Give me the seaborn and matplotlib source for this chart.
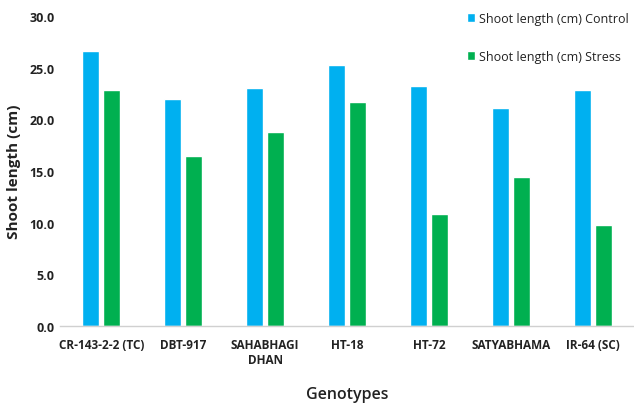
import matplotlib
matplotlib.use("Agg")
import matplotlib.pyplot as plt
import seaborn as sns
import pandas as pd

genotypes = ["CR-143-2-2 (TC)", "DBT-917", "SAHABHAGI\nDHAN", "HT-18", "HT-72", "SATYABHAMA", "IR-64 (SC)"]
control = [26.6, 22.0, 23.0, 25.3, 23.2, 21.1, 22.8]
stress = [22.8, 16.4, 18.8, 21.7, 10.8, 14.4, 9.8]
series_names = ["Shoot length (cm) Control", "Shoot length (cm) Stress"]
y_ticks = [0.0, 5.0, 10.0, 15.0, 20.0, 25.0, 30.0]

df = pd.DataFrame({
    "Genotype": genotypes * 2,
    "Value": control + stress,
    "Series": [series_names[0]] * len(genotypes) + [series_names[1]] * len(genotypes),
})

sns.set_theme(style="white")
plt.rcParams["font.family"] = ["Open Sans", "DejaVu Sans"]

fig = plt.figure(figsize=(6.34, 4.06), dpi=100)
ax = fig.add_axes([0.095, 0.195, 0.905, 0.763])

sns.barplot(data=df, x="Genotype", y="Value", hue="Series", order=genotypes,
            hue_order=series_names, palette=["#00B0F0", "#00B050"], saturation=1,
            width=0.52, gap=0.2, ax=ax, errorbar=None)

ax.set_ylim(0, 30)
ax.set_xlim(-0.5, len(genotypes) - 0.5)
ax.set_yticks(y_ticks)
ax.set_yticklabels([f"{t:.1f}" for t in y_ticks], fontsize=9, fontweight="bold", color="#222222")
ax.set_xticks(range(len(genotypes)))
ax.set_xticklabels(genotypes, fontsize=8.5, fontweight="bold", color="#222222")
ax.tick_params(axis="y", length=0, pad=4)
ax.tick_params(axis="x", length=0, pad=9)

for s in ["top", "right", "left"]:
    ax.spines[s].set_visible(False)
ax.spines["bottom"].set_color("#d0d0d0")
ax.spines["bottom"].set_linewidth(1.0)

ax.set_ylabel("Shoot length (cm)", fontsize=11, fontweight="bold", color="#222222", labelpad=6)
ax.set_xlabel("Genotypes", fontsize=11.5, fontweight="semibold", color="#222222", labelpad=14)

leg = ax.legend(loc="upper right", bbox_to_anchor=(1.01, 1.05), frameon=False,
                fontsize=9, labelspacing=2.0, handlelength=0.6, handleheight=0.8,
                handletextpad=0.3)
for t in leg.get_texts():
    t.set_color("#222222")

fig.savefig("out.png", dpi=100)
